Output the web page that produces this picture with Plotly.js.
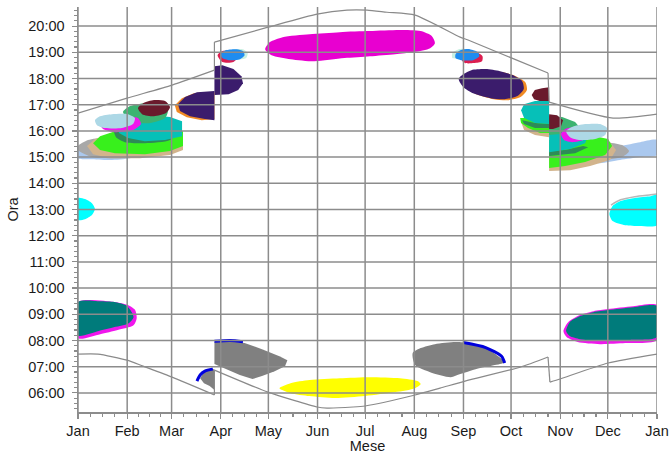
<!DOCTYPE html>
<html>
<head>
<meta charset="utf-8">
<script src="https://cdn.plot.ly/plotly-3.0.1.min.js"></script>
<style>html,body{margin:0;padding:0;background:#fff}#chart{width:670px;height:454px}</style>
</head>
<body>
<div id="chart"></div>
<script>
// ---- axes ----
const MONTH_LABELS = ['Jan','Feb','Mar','Apr','May','Jun','Jul','Aug','Sep','Oct','Nov','Dec','Jan'];
const MONTH_START_DAYS = [0,31,59,90,120,151,181,212,243,273,304,334,365];
const HOUR_TICKS = [6,7,8,9,10,11,12,13,14,15,16,17,18,19,20];
const HOUR_LABELS = ['06:00','07:00','08:00','09:00','10:00','11:00','12:00','13:00','14:00','15:00','16:00','17:00','18:00','19:00','20:00'];

// ---- sun curves (day of year, hour); clock changes on days 86 and 297 ----
const sunsetDays  = [0,30.9,59.3,86,86,119.8,150.7,169.6,182.2,194.8,212.5,240.9,245.9,296.3,297,337.3,365];
const sunsetHours = [16.68,17.25,17.75,18.32,19.39,19.96,20.46,20.61,20.61,20.53,20.42,19.58,19.47,18.21,17.10,16.49,16.64];
const sunriseDays  = [0,12.6,30.9,41,59.3,86,86,119.8,150.7,157,173.4,181,212.5,228.2,244,278.7,296.3,297.5,303.9,334.2,365];
const sunriseHours = [7.48,7.48,7.25,7.02,6.60,5.92,6.87,6.03,5.46,5.42,5.46,5.50,5.92,6.18,6.45,6.98,7.37,6.41,6.53,7.14,7.48];
const sunsetJumps = [3, 13];
const sunriseJumps = [5, 16];

// ---- glare patches: [day of year, hour] outlines ----
// morning
const janMorningMagenta = [[0,9.47],[23,9.47],[31.5,9.35],[36,9.16],[37,8.85],[35,8.58],[25,8.40],[14,8.24],[0,8.09]];
const janMorningTeal = [[0,9.47],[14,9.50],[23,9.47],[30,9.35],[33,9.16],[35,8.89],[32,8.66],[23,8.51],[13,8.36],[0,8.19]];
const novMorningMagenta = [[306,8.36],[309,8.70],[316.5,8.97],[325,9.12],[334,9.20],[350,9.31],[365,9.35],[365,8.02],[345,7.90],[329,7.86],[315,7.94],[308,8.13]];
const novMorningTeal = [[307.7,8.36],[310,8.70],[316.5,8.93],[324.9,9.08],[334.2,9.16],[350.1,9.27],[365,9.31],[365,8.13],[348,8.02],[329,7.98],[316.5,8.05],[310,8.17]];
const marMorningGray = [[77,6.56],[79,6.76],[82,6.87],[86,6.91],[86,6.11],[83,6.26],[79.4,6.37]];
const marMorningEdge = [[75,6.45],[77,6.68],[80,6.83],[85,6.91]];
const aprMorningGray = [[86,7.94],[96,7.97],[105,7.90],[116,7.67],[127,7.40],[132,7.25],[130.5,7.02],[124,6.83],[116,6.64],[110,6.53],[102,6.68],[93,6.91],[86,7.10]];
const aprMorningEdge = [[86,7.97],[96,8.0],[104,7.95]];
const augMorningGray = [[211,7.52],[216,7.71],[225,7.86],[238,7.94],[247,7.90],[257,7.71],[264,7.44],[269,7.18],[266,7.10],[253.5,6.95],[241,6.72],[235,6.60],[222,6.79],[212.5,7.06]];
const augMorningEdge = [[243,7.92],[257,7.73],[267,7.40],[269,7.14]];
const summerMorningYellow = [[127,6.18],[134,6.37],[146,6.49],[165,6.56],[184,6.60],[203,6.56],[214,6.45],[216,6.34],[212.5,6.18],[200,6.03],[181,5.88],[162,5.80],[146,5.88],[134,5.99]];
// midday
const janNoonCyan = [[0,13.44],[4.4,13.40],[8.8,13.24],[10.7,13.02],[8.8,12.79],[4.4,12.63],[0,12.60]];
const decNoonCyan = [[335,12.82],[337,13.13],[342,13.32],[351,13.44],[361,13.51],[365,13.55],[365,12.40],[354,12.37],[345,12.40],[337,12.56]];
const decNoonEdge = [[336,13.17],[342,13.37],[351,13.49],[361,13.56],[365,13.59]];
// evening, summer and spring/autumn
const summerEveningMagenta = [[118,19.12],[121,19.39],[129,19.58],[146,19.69],[165,19.77],[184,19.81],[203,19.85],[216,19.81],[223,19.62],[225,19.35],[222,19.16],[212,19.01],[200,18.93],[184,18.85],[168,18.78],[149,18.66],[134,18.74],[122,18.89]];
const aprDotMint = [[97,19.08],[104,19.12],[107,18.97],[106,18.78],[101,18.74]];
const aprDotRed = [[88,18.89],[91,19.05],[98,19.05],[101,18.85],[98,18.63],[91,18.63]];
const aprDotBlue = [[90,18.93],[93,19.08],[100,19.12],[104,19.05],[105,18.89],[102,18.74],[95,18.70],[91,18.78]];
const sepDotMint = [[236,18.97],[240,19.12],[244,19.12],[241,18.78],[236,18.78]];
const sepDotRed = [[242,18.70],[246,18.89],[252,18.97],[255,18.85],[254.7,18.66],[249.7,18.59],[244,18.59]];
const sepDotBlue = [[238,18.93],[241,19.08],[247,19.12],[252,19.01],[253,18.85],[249,18.70],[241.5,18.70],[238,18.78]];
const aprPurple = [[86,18.47],[91,18.51],[98,18.36],[103,18.09],[104,17.82],[101,17.56],[95,17.40],[86,17.37]];
const marOrange = [[61,16.98],[65.5,17.25],[73,17.44],[80,17.48],[86,17.48],[86,16.45],[78,16.41],[68.6,16.52],[62.3,16.72]];
const marPurple = [[63,17.02],[67.5,17.29],[75,17.48],[82,17.52],[86,17.52],[86,16.41],[80,16.45],[70.6,16.56],[64.3,16.76]];
const sepOrange = [[242,17.94],[245,18.13],[250,18.28],[259,18.32],[268,18.24],[276,18.09],[282,17.86],[283,17.56],[279,17.29],[271,17.17],[262,17.21],[251,17.40],[245,17.63]];
const sepPurple = [[240,17.98],[243,18.17],[248,18.32],[257,18.36],[266,18.28],[274,18.13],[280,17.90],[281,17.60],[277,17.33],[269,17.21],[260,17.25],[249,17.44],[243,17.67]];
const octMaroon = [[286,17.37],[288,17.56],[292.5,17.63],[297,17.67],[297,17.10],[291,17.14],[287.5,17.21]];
// winter afternoon cluster, Jan-Mar
const febLightSteel = [[0,15.27],[10.7,15.46],[23.3,15.50],[35.9,15.31],[40.4,15.11],[32.8,14.96],[20.2,14.89],[7.6,14.92],[0,14.96]];
const febGray = [[0,15.42],[6.3,15.65],[17,15.76],[32.8,15.80],[48.5,15.69],[53,15.38],[45.4,15.08],[26.5,14.96],[8.8,15.00],[0,15.27]];
const febTan = [[5.7,15.42],[10.7,15.69],[20.2,15.88],[39.1,15.99],[66.2,15.92],[66.2,15.27],[58,15.08],[39.1,14.96],[20.2,14.96],[9.5,15.11]];
const febLime = [[9.5,15.53],[13.9,15.80],[23.3,15.99],[39.1,16.07],[54.9,16.07],[66.2,15.99],[66.2,15.42],[58,15.23],[42.2,15.11],[23.3,15.15],[13.9,15.27]];
const febDarkGreen = [[22.7,16.03],[29.6,16.26],[42.2,16.34],[54.9,16.26],[63.1,16.03],[58,15.65],[42.2,15.53],[29.6,15.57],[24,15.76]];
const febTeal = [[24.6,16.11],[27.7,16.37],[35.9,16.56],[45.4,16.60],[58,16.53],[65.6,16.37],[65.6,15.80],[54.9,15.65],[42.2,15.61],[31.5,15.73],[25.9,15.92]];
const febSeaGreen = [[28.4,16.72],[32.8,16.95],[42.2,17.06],[51.7,17.02],[56.7,16.79],[54.9,16.49],[45.4,16.30],[34,16.34]];
const febMagenta = [[13.9,16.26],[18.9,16.49],[29.6,16.56],[37.8,16.49],[39.7,16.26],[34.7,16.03],[23.3,15.95],[15.8,16.07]];
const febLightBlue = [[10.7,16.41],[13.9,16.56],[21.4,16.64],[31.5,16.64],[35.9,16.49],[34.7,16.26],[27.7,16.11],[17,16.11],[12,16.22]];
const febMaroon = [[37.8,16.87],[41,17.06],[47.9,17.18],[54.9,17.14],[58,16.91],[55.5,16.68],[47.9,16.56],[40.4,16.64]];
// autumn afternoon cluster, before the clock change
const octTan = [[279.3,16.34],[297,16.34],[297,15.76],[288.1,15.84],[281.2,16.03]];
const octLime = [[278.7,16.49],[284.9,16.49],[297,16.45],[297,15.92],[291.3,15.92],[283.7,16.11],[279.3,16.30]];
const octDarkGreen = [[280,16.41],[288.1,16.30],[297,16.26],[297,16.11],[288.1,16.11],[281.2,16.26]];
const octTeal = [[279.3,16.79],[281.2,17.02],[288.1,17.14],[297,17.14],[297,16.26],[288.1,16.30],[281.2,16.49]];
// autumn/winter afternoon cluster, after the clock change
const novLightSteel = [[319.7,14.96],[329.1,15.27],[341.7,15.42],[354.4,15.57],[365,15.65],[365,15.08],[354.4,15.00],[341.7,14.89],[329.1,14.77],[321.6,14.81]];
const novGray = [[303.9,15.27],[316.5,15.50],[332.3,15.57],[343,15.46],[347.4,15.23],[343,15.00],[329.1,14.89],[313.4,14.89]];
const novTan = [[297,15.57],[310.2,15.69],[326,15.73],[335.4,15.57],[339.2,15.27],[335.4,14.89],[322.8,14.66],[310.2,14.50],[297,14.47]];
const novLime = [[297,15.65],[310.2,15.76],[326,15.80],[334.2,15.69],[336.7,15.42],[332.3,15.08],[319.7,14.81],[307.1,14.66],[297,14.58]];
const novDarkGreen = [[297,15.23],[307.1,15.27],[318.4,15.42],[321.6,15.38],[313.4,15.15],[303.9,15.08],[297,15.04]];
const novTeal = [[297,16.49],[307.1,16.37],[316.5,16.15],[321.6,15.84],[319.7,15.53],[310.2,15.31],[297,15.19]];
const novSeaGreen = [[297,16.56],[305.2,16.53],[313.4,16.34],[316.5,16.11],[310.2,15.92],[297,15.84]];
const novMagenta = [[304.5,15.88],[307.1,16.07],[313.4,16.15],[319.7,16.07],[322.8,15.88],[318.4,15.65],[311.5,15.57],[306.4,15.65]];
const novLightBlue = [[307.7,15.99],[311.5,16.15],[319.7,16.26],[329.1,16.26],[333.5,16.11],[332.3,15.84],[326,15.69],[316.5,15.65],[310.2,15.76]];
const novMaroon = [[297,16.64],[302,16.60],[305.8,16.41],[304.5,16.18],[299.5,16.07],[297,16.07]];

// ---- drawing ----
// smooth = rounded outline; straight = outline cut by a clock change or an edge
function patch(pts, color, straight) {
  const xs = pts.map(p => p[0]), ys = pts.map(p => p[1]);
  xs.push(xs[0]); ys.push(ys[0]);
  return {x: xs, y: ys, type: 'scatter', mode: 'lines',
          line: straight ? {width: 0, shape: 'linear', color: color}
                         : {width: 0, shape: 'spline', smoothing: 0.7, color: color},
          fill: 'toself', fillcolor: color, hoverinfo: 'skip', showlegend: false};
}
function edge(pts, color, w) {
  return {x: pts.map(p => p[0]), y: pts.map(p => p[1]), type: 'scatter', mode: 'lines',
          line: {color: color, width: w, shape: 'spline', smoothing: 0.7}, hoverinfo: 'skip', showlegend: false};
}
function curve(days, hours, jumps) {
  const out = [];
  const cuts = [0].concat(jumps.flatMap(j => [j, j + 1])).concat([days.length - 1]);
  for (let s = 0; s < cuts.length - 1; s++) {
    const a = cuts[s], b = cuts[s + 1];
    out.push({x: days.slice(a, b + 1), y: hours.slice(a, b + 1), type: 'scatter', mode: 'lines',
              line: {color: '#8a8a8a', width: 1.2, shape: 'spline', smoothing: 0.6},
              hoverinfo: 'skip', showlegend: false});
  }
  return out;
}
const C = {
  magenta: '#e800d0', pink: '#f016ec', tealDark: '#007b7b', yellow: '#ffff00', gray: '#808080',
  blue: '#0000dd', cyan: '#00ffff', purple: '#3b1c6c', orange: '#f08a24', dodger: '#1e8cf0',
  red: '#dc1e50', mint: '#c9f0e2', maroon: '#6a1a2c', lightSteel: '#aac8ee', lightGray: '#a8a8a8',
  tan: '#d2b48c', lime: '#38f01c', darkGreen: '#2e8b57', teal: '#06c0b8', seaGreen: '#3cb371',
  lightBlue: '#add8e6'
};
const S = true;
const traces = [
  patch(janMorningMagenta, C.pink), patch(janMorningTeal, C.tealDark),
  patch(novMorningMagenta, C.pink), patch(novMorningTeal, C.tealDark),
  patch(marMorningGray, C.gray, S), edge(marMorningEdge, C.blue, 3),
  patch(aprMorningGray, C.gray, S), edge(aprMorningEdge, C.blue, 3),
  patch(augMorningGray, C.gray), edge(augMorningEdge, C.blue, 3),
  patch(summerMorningYellow, C.yellow),
  patch(janNoonCyan, C.cyan), patch(decNoonCyan, C.cyan), edge(decNoonEdge, '#b8b8b8', 1.5),
  patch(summerEveningMagenta, C.magenta),
  patch(aprDotMint, C.mint), patch(aprDotRed, C.red), patch(aprDotBlue, C.dodger),
  patch(sepDotMint, C.mint), patch(sepDotRed, C.red), patch(sepDotBlue, C.dodger),
  patch(aprPurple, C.purple, S), patch(marOrange, C.orange, S), patch(marPurple, C.purple, S),
  patch(sepOrange, C.orange), patch(sepPurple, C.purple), patch(octMaroon, C.maroon, S),
  patch(febLightSteel, C.lightSteel), patch(febGray, C.lightGray), patch(febTan, C.tan, S),
  patch(febLime, C.lime, S), patch(febDarkGreen, C.darkGreen), patch(febTeal, C.teal, S),
  patch(febSeaGreen, C.seaGreen), patch(febMagenta, C.pink), patch(febLightBlue, C.lightBlue),
  patch(febMaroon, C.maroon),
  patch(octTan, C.tan, S), patch(octLime, C.lime, S), patch(octDarkGreen, C.darkGreen, S), patch(octTeal, C.teal, S),
  patch(novLightSteel, C.lightSteel), patch(novGray, C.lightGray), patch(novTan, C.tan, S),
  patch(novLime, C.lime, S), patch(novDarkGreen, C.darkGreen, S), patch(novTeal, C.teal, S),
  patch(novSeaGreen, C.seaGreen, S), patch(novMagenta, C.pink), patch(novLightBlue, C.lightBlue),
  patch(novMaroon, C.maroon, S)
].concat(curve(sunsetDays, sunsetHours, sunsetJumps), curve(sunriseDays, sunriseHours, sunriseJumps));

// minor ticks: quarter months
const minorX = [];
for (let i = 0; i < MONTH_START_DAYS.length - 1; i++) {
  const a = MONTH_START_DAYS[i], b = MONTH_START_DAYS[i + 1];
  for (let k = 1; k < 4; k++) minorX.push(a + (b - a) * k / 4);
}
const GRID = '#8c8c8c';
const shapes = [];
MONTH_START_DAYS.forEach(d => shapes.push({type: 'line', xref: 'x', yref: 'paper', x0: d, x1: d, y0: 0, y1: 1, line: {color: GRID, width: 1.5}, layer: 'above'}));
HOUR_TICKS.forEach(h => shapes.push({type: 'line', xref: 'paper', yref: 'y', x0: 0, x1: 1, y0: h, y1: h, line: {color: GRID, width: 1.5}, layer: 'above'}));

const FONT = {family: 'Liberation Sans, Arial, sans-serif', size: 14.5, color: '#1a1a1a'};
const layout = {
  width: 670, height: 454,
  margin: {l: 78, r: 13, t: 7, b: 42},
  paper_bgcolor: '#ffffff', plot_bgcolor: '#ffffff',
  font: FONT,
  showlegend: false,
  xaxis: {
    range: [0, 365], tickmode: 'array', tickvals: MONTH_START_DAYS, ticktext: MONTH_LABELS,
    showgrid: false, zeroline: false, showline: true, linecolor: '#8c8c8c', linewidth: 1.5,
    ticks: 'outside', ticklen: 5, tickcolor: '#8c8c8c', tickwidth: 1.2,
    minor: {tickmode: 'array', tickvals: minorX, ticks: 'outside', ticklen: 3, tickcolor: '#8c8c8c', showgrid: false},
    tickfont: FONT,
    title: {text: 'Mese', font: FONT, standoff: 0},
    fixedrange: true
  },
  yaxis: {
    range: [5.27, 20.73], tickmode: 'array', tickvals: HOUR_TICKS, ticktext: HOUR_LABELS,
    showgrid: false, zeroline: false, showline: true, linecolor: '#8c8c8c', linewidth: 1.5,
    ticks: 'outside', ticklen: 5, tickcolor: '#8c8c8c', tickwidth: 1.2,
    minor: {dtick: 0.2, tick0: 0, ticks: 'outside', ticklen: 3, tickcolor: '#8c8c8c', showgrid: false},
    tickfont: FONT, ticklabelstandoff: 4,
    title: {text: 'Ora', font: FONT, standoff: 6},
    fixedrange: true
  },
  shapes: shapes
};
Plotly.newPlot('chart', traces, layout, {staticPlot: true, displayModeBar: false});
</script>
</body>
</html>
